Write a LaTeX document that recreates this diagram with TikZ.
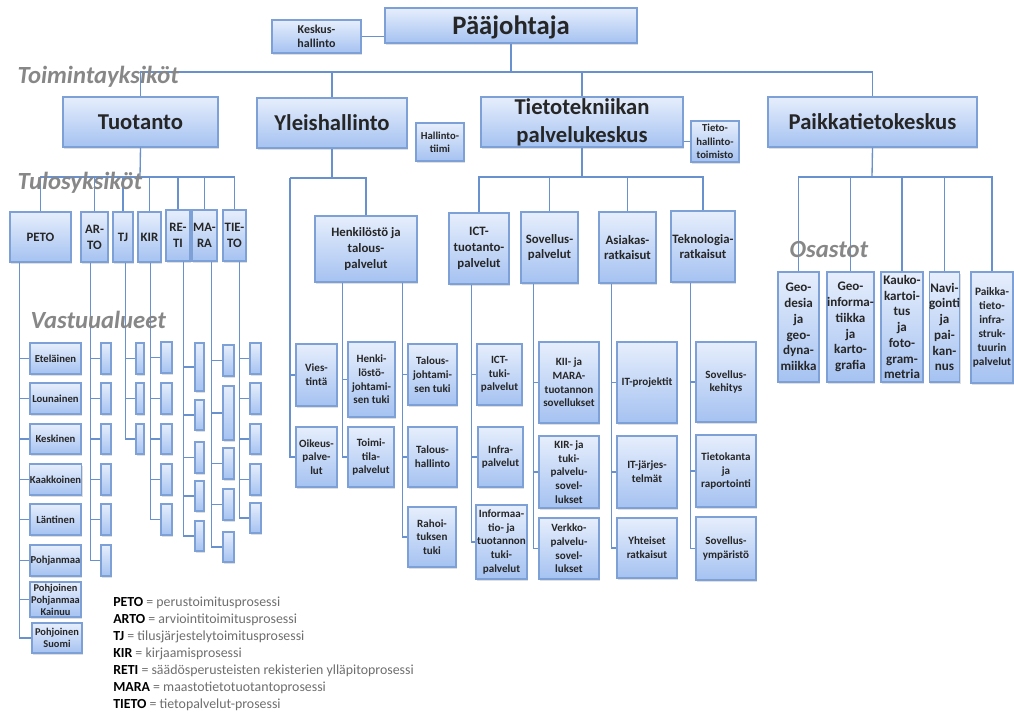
\documentclass[tikz,border=0pt]{standalone}
\usepackage{fontspec}
\setmainfont{Carlito}
\usetikzlibrary{shadows}

\definecolor{boxtop}{RGB}{230,238,252}
\definecolor{boxbot}{RGB}{165,194,241}
\definecolor{boxline}{RGB}{125,160,215}
\definecolor{linkblue}{RGB}{105,145,205}
\definecolor{tiergray}{RGB}{135,135,135}
\definecolor{legendgray}{RGB}{110,110,110}

\tikzset{
  spot/.style n args={4}{at={({(#1+#3)/2},{(#2+#4)/2})},
    minimum width={(#3-#1)*0.75pt}, minimum height={(#4-#2)*0.75pt}},
  orgbox/.style={draw=boxline, line width=0.8pt, top color=boxtop, bottom color=boxbot,
    inner sep=0pt, align=center, text=black!85,
    drop shadow={shadow xshift=1pt, shadow yshift=-1.2pt, opacity=0.25}},
  chiefbox/.style={orgbox, text depth=0pt, font=\fontsize{20}{24}\selectfont\bfseries},
  headbox/.style={orgbox, font=\fontsize{17}{21}\selectfont\bfseries},
  unitbox/.style={orgbox, font=\fontsize{9.6}{11.9}\selectfont\bfseries},
  itembox/.style={orgbox, font=\fontsize{8.3}{10.3}\selectfont\bfseries},
  notebox/.style={orgbox, font=\fontsize{8}{10}\selectfont\bfseries},
  deptbox/.style={orgbox, font=\fontsize{9.8}{11.8}\selectfont\bfseries},
  cellbox/.style={orgbox},
  conn/.style={draw=linkblue, line width=1pt},
  tier/.style={anchor=base west, text=tiergray, font=\fontsize{18.5}{20}\selectfont\bfseries\itshape},
  legendtext/.style={anchor=west, inner sep=0pt, font=\fontsize{10.4}{12}\selectfont}
}

\begin{document}
\begin{tikzpicture}[x=0.75pt, y=-0.75pt]
  \useasboundingbox (0,0) rectangle (1014,717);

  % top
  \node[chiefbox, spot={385}{8}{637}{43}] (paa) {Pääjohtaja};
  \node[notebox, font=\fontsize{9}{11}\selectfont\bfseries, spot={272}{20}{361}{53}] (keskus) {Keskus-\\hallinto};
  \draw[conn] (keskus.east) -- (keskus.east -| paa.west);

  % toimintayksiköt
  \node[headbox, spot={63}{97}{218}{147}] (tuot) {Tuotanto};
  \node[headbox, spot={257}{98}{407}{148}] (yleis) {Yleishallinto};
  \node[notebox, spot={416}{123}{464}{161}] (htiimi) {Hallinto-\\tiimi};
  \node[headbox, spot={481}{97}{683}{147}] (tpk) {Tietotekniikan\\palvelukeskus};
  \node[notebox, spot={691}{121}{739}{162}] (thtoim) {Tieto-\\hallinto-\\toimisto};
  \node[headbox, spot={768}{97}{977}{147}] (paik) {Paikkatietokeskus};
  \coordinate (bus) at (511,72);
  \draw[conn] (paa.south) -- (bus);
  \foreach \n in {tuot,yleis,tpk,paik}
    \draw[conn] (\n.north) |- (bus);
  \draw[conn] (thtoim.west -| tpk.east) -- (thtoim.west);

  % tulosyksiköt
  \foreach \n/\t/\xa/\xb/\ya/\yb in {peto/PETO/10/71/212/262, arto/AR-\\TO/81/108/212/262,
      tj/TJ/113/133/212/262, kir/KIR/138/161/212/262, reti/RE-\\TI/166/190/210/261,
      mara/MA-\\RA/192/217/210/261, tieto/TIE-\\TO/223/246/210/261}
    \node[unitbox, spot={\xa}{\ya}{\xb}{\yb}] (\n) {\t};
  \coordinate (tbus) at (140,177);
  \draw[conn] (tuot.south) -- (tbus);
  \foreach \n in {peto,arto,tj,kir,reti,mara,tieto}
    \draw[conn] (\n.north) |- (tbus);

  % vastuualueet
  \foreach \n/\t/\ya/\yb in {etela/Eteläinen/343/374, lounas/Lounainen/383/414,
      keski/Keskinen/424/454, kaakko/Kaakkoinen/464/495, lansi/Läntinen/504/535,
      pohjanmaa/Pohjanmaa/545/576}{
    \node[itembox, font=\fontsize{8}{10}\selectfont\bfseries, spot={30}{\ya}{81}{\yb}] (\n) {\t};
    \draw[conn] (peto.south west) ++(10,0) |- (\n.west);
  }
  \node[itembox, font=\fontsize{7.8}{9}\selectfont\bfseries, spot={30}{582}{81}{617}] (ppk) {Pohjoinen\\Pohjanmaa\\Kainuu};
  \node[itembox, font=\fontsize{7.8}{9}\selectfont\bfseries, spot={32}{623}{82}{653}] (psuomi) {Pohjoinen\\Suomi};
  \foreach \n in {ppk,psuomi}
    \draw[conn] (peto.south west) ++(10,0) |- (\n.west);

  \foreach \ya/\yb [count=\i] in {343/374,383/414,424/454,464/495,504/535,545/576}{
    \node[cellbox, spot={101}{\ya}{111}{\yb}] (arto-\i) {};
    \draw[conn] (arto.south west) ++(10,0) |- (arto-\i.west);
  }
  \foreach \ya/\yb [count=\i] in {343/374,383/414,424/454}{
    \node[cellbox, spot={136}{\ya}{144}{\yb}] (tj-\i) {};
    \draw[conn] (tj.south west) ++(13,0) |- (tj-\i.west);
  }
  \foreach \ya/\yb [count=\i] in {342/373,383/414,424/454,464/495,504/535}{
    \node[cellbox, spot={161}{\ya}{172}{\yb}] (kir-\i) {};
    \draw[conn] (kir.south west) ++(13,0) |- (kir-\i.west);
  }
  \foreach \ya/\yb [count=\i] in {343/391,400/430,442/473,481/511,521/551}{
    \node[cellbox, spot={195}{\ya}{204}{\yb}] (reti-\i) {};
    \draw[conn] (reti.south west) ++(18,0) |- (reti-\i.west);
  }
  \foreach \ya/\yb [count=\i] in {345/376,386/440,448/479,489/520,532/562}{
    \node[cellbox, spot={223}{\ya}{234}{\yb}] (mara-\i) {};
    \draw[conn] (mara.south west) ++(20,0) |- (mara-\i.west);
  }
  \foreach \ya/\yb [count=\i] in {343/374,383/414,424/454,464/495,503/533}{
    \node[cellbox, spot={250}{\ya}{261}{\yb}] (tieto-\i) {};
    \draw[conn] (tieto.south west) ++(17,0) |- (tieto-\i.west);
  }

  % yleishallinto
  \coordinate (ybus) at (332,178);
  \coordinate (yleft) at (290,178);
  \node[unitbox, spot={315}{216}{417}{282}] (henk) {Henkilöstö ja\\talous-\\palvelut};
  \draw[conn] (yleis.south) -- (ybus);
  \draw[conn] (henk.north) |- (ybus);
  \draw[conn] (ybus) -- (yleft);
  \node[itembox, spot={296}{344}{337}{406}] (viest) {Vies-\\tintä};
  \node[itembox, spot={296}{427}{337}{487}] (oikeus) {Oikeus-\\palve-\\lut};
  \foreach \n in {viest,oikeus}
    \draw[conn] (yleft) |- (\n.west);
  \node[itembox, spot={348}{342}{395}{417}] (hjtuki) {Henki-\\löstö-\\johtami-\\sen tuki};
  \node[itembox, spot={348}{427}{394}{487}] (toimitila) {Toimi-\\tila-\\palvelut};
  \node[itembox, spot={408}{344}{457}{405}] (tjtuki) {Talous-\\johtami-\\sen tuki};
  \node[itembox, spot={408}{427}{457}{487}] (thall) {Talous-\\hallinto};
  \node[itembox, spot={408}{507}{456}{567}] (rahoitus) {Rahoi-\\tuksen\\tuki};
  \foreach \n in {hjtuki,toimitila}
    \draw[conn] (henk.south west) ++(28,0) |- (\n.west);
  \foreach \n in {tjtuki,thall,rahoitus}
    \draw[conn] (henk.south west) ++(88,0) |- (\n.west);

  % tietotekniikan palvelukeskus
  \coordinate (tbus2) at (582,177);
  \node[unitbox, spot={449}{213}{509}{284}] (ict) {ICT-\\tuotanto-\\palvelut};
  \node[unitbox, spot={521}{212}{578}{283}] (sovp) {Sovellus-\\palvelut};
  \node[unitbox, spot={599}{212}{656}{283}] (asiak) {Asiakas-\\ratkaisut};
  \node[unitbox, spot={671}{211}{735}{282}] (tekno) {Teknologia-\\ratkaisut};
  \draw[conn] (tpk.south) -- (tbus2);
  \foreach \n in {ict,sovp,asiak,tekno}
    \draw[conn] (\n.north) |- (tbus2);

  \node[itembox, spot={477}{344}{522}{405}] (icttuki) {ICT-\\tuki-\\palvelut};
  \node[itembox, spot={478}{427}{523}{487}] (infra) {Infra-\\palvelut};
  \node[itembox, spot={476}{505}{527}{579}] (info) {Informaa-\\tio- ja\\tuotannon\\tuki-\\palvelut};
  \foreach \n in {icttuki,infra,info}
    \draw[conn] (ict.south west) ++(23,0) |- (\n.west);

  \node[itembox, spot={539}{342}{599}{423}] (kiimara) {KII- ja\\MARA-\\tuotannon\\sovellukset};
  \node[itembox, spot={539}{436}{599}{508}] (kirtuki) {KIR- ja\\tuki-\\palvelu-\\sovel-\\lukset};
  \node[itembox, spot={539}{518}{599}{579}] (verkko) {Verkko-\\palvelu-\\sovel-\\lukset};
  \foreach \n in {kiimara,kirtuki,verkko}
    \draw[conn] (sovp.south west) ++(13,0) |- (\n.west);

  \node[itembox, spot={617}{342}{677}{423}] (itproj) {IT-projektit};
  \node[itembox, spot={617}{436}{677}{508}] (itjarj) {IT-järjes-\\telmät};
  \node[itembox, spot={617}{518}{677}{578}] (yhteiset) {Yhteiset\\ratkaisut};
  \foreach \n in {itproj,itjarj,yhteiset}
    \draw[conn] (asiak.south west) ++(13,0) |- (\n.west);

  \node[itembox, spot={696}{342}{756}{422}] (sovkeh) {Sovellus-\\kehitys};
  \node[itembox, spot={696}{435}{756}{507}] (tietok) {Tietokanta\\ja\\raportointi};
  \node[itembox, spot={696}{517}{756}{580}] (sovymp) {Sovellus-\\ympäristö};
  \foreach \n in {sovkeh,tietok,sovymp}
    \draw[conn] (tekno.south west) ++(20,0) |- (\n.west);

  % paikkatietokeskus
  \coordinate (pbus) at (872,177);
  \node[deptbox, spot={778}{272}{819}{382}] (geodesia) {Geo-\\desia\\ja\\geo-\\dyna-\\miikka};
  \node[deptbox, spot={827}{272}{874}{382}] (geoinfo) {Geo-\\informa-\\tiikka\\ja\\karto-\\grafia};
  \node[deptbox, spot={881}{272}{923}{382}] (kauko) {Kauko-\\kartoi-\\tus\\ja\\foto-\\gram-\\metria};
  \node[deptbox, spot={930}{272}{959}{382}] (navi) {Navi-\\gointi\\ja\\pai-\\kan-\\nus};
  \node[deptbox, font=\fontsize{8.5}{10.5}\selectfont\bfseries, spot={971}{272}{1013}{383}] (pinfra) {Paikka-\\tieto-\\infra-\\struk-\\tuurin\\palvelut};
  \draw[conn] (paik.south) -- (pbus);
  \foreach \n in {geodesia,geoinfo,kauko,navi,pinfra}
    \draw[conn] (\n.north) |- (pbus);

  % level labels
  \node[tier] (lbl-toim) at (13,84) {Toimintayksiköt};
  \node[tier] (lbl-tulos) at (13,189) {Tulosyksiköt};
  \node[tier] (lbl-vastuu) at (26,328) {Vastuualueet};
  \node[tier] (lbl-osastot) at (785,257) {Osastot};

  % legend
  \foreach \ab/\txt [count=\i] in {PETO/perustoimitusprosessi, ARTO/arviointitoimitusprosessi,
      TJ/tilusjärjestelytoimitusprosessi, KIR/kirjaamisprosessi,
      RETI/säädösperusteisten rekisterien ylläpitoprosessi, MARA/maastotietotuotantoprosessi,
      TIETO/tietopalvelut-prosessi}
    \node[legendtext] (leg-\i) at (113,{586+17*\i}) {\textbf{\ab} \textcolor{legendgray}{= \txt}};
\end{tikzpicture}
\end{document}
